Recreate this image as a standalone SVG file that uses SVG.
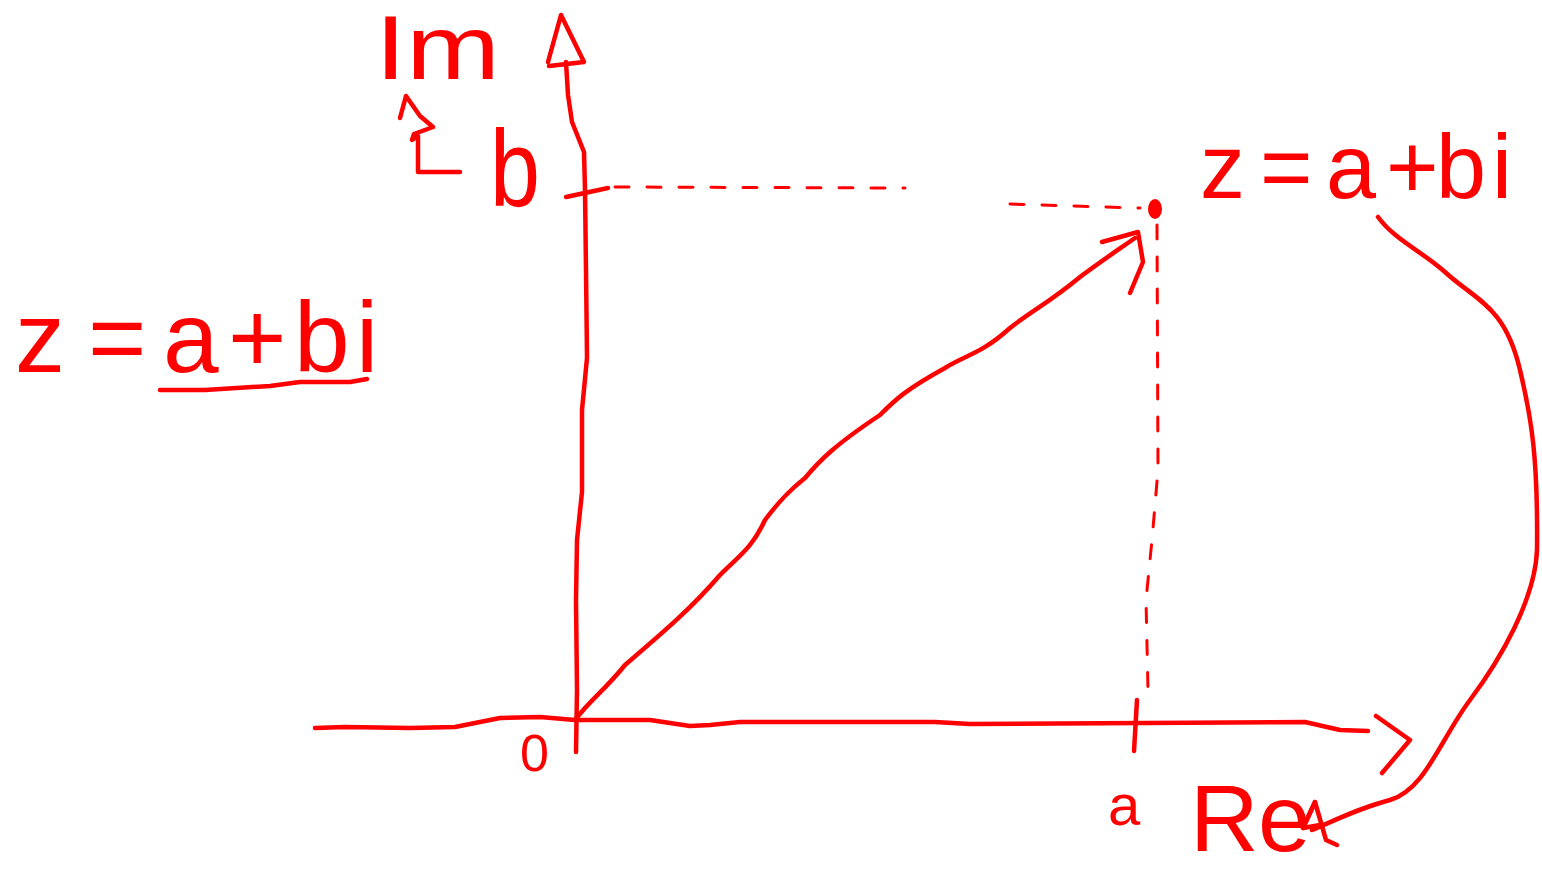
<svg xmlns="http://www.w3.org/2000/svg" width="1542" height="872" viewBox="0 0 1542 872">
<style>
.s{fill:none;stroke:#ff0000;stroke-width:4.5;stroke-linecap:round;stroke-linejoin:round}
.d{fill:none;stroke:#ff0000;stroke-width:3;stroke-linecap:round;stroke-dasharray:14 18}
.t{fill:#ff0000;font-family:"Liberation Sans",Arial,sans-serif}
</style>
<rect width="1542" height="872" fill="#ffffff"/>
<g id="connectors">
<path class="s" d="M576,752 L577,690 L576,600 L577,540 L582,492 L582,410 L587,358 L586,270 L585,190 L584,152 L572,122 L568,95 L566,62"/>
<path class="s" d="M548,62 L561,15 L584,62 L549,66"/>
<path class="s" d="M566,197 L608,188"/>
<path class="s" d="M315,728 L345,727 L410,728 L455,727 L500,718 L540,717 L575,720 L650,720 L690,726 L710,725 L740,722 L935,722 L970,724 L1305,722 L1340,730 L1368,731"/>
<path class="s" d="M1376,716 L1410,740 L1382,773"/>
<path class="s" d="M1137,700 L1134,751"/>
<path class="d" d="M615,187 L905,188"/>
<path class="d" d="M1010,204 L1140,208"/>
<path class="d" d="M1157,225 L1158,470 L1152,540 L1146,600 L1148,690"/>
<ellipse cx="1155" cy="209" rx="7" ry="10" fill="#ff0000"/>
<path class="s" d="M575,720 C590,700 605,690 625,665 C660,635 690,610 720,575 C740,555 752,548 765,520 C780,500 790,490 805,478 C820,460 835,445 880,415 C895,400 905,390 945,368 C965,355 980,355 1010,328 C1030,312 1050,302 1080,277 C1100,262 1115,252 1135,238"/>
<path class="s" d="M1102,242 L1138,232 L1143,262 L1130,293"/>
<path class="s" d="M1378,217 C1395,240 1420,250 1445,272 C1475,300 1505,305 1520,370 C1532,420 1538,460 1537,550 C1535,600 1500,660 1470,700 C1440,740 1425,790 1390,800 C1360,808 1340,818 1312,830"/>
<path class="s" d="M1303,828 L1315,802 L1326,840 L1337,845"/>
<path class="s" d="M1315,802 L1303,828 L1320,825"/>
<path class="s" d="M160,390 L205,390 L270,386 L300,382 L350,382 L367,379"/>
<path class="s" d="M406,96 L400,118 M406,96 L420,116 L433,127 L414,134 L412,140 L418,136 L418,172 L460,172"/>
</g>
<g id="label-im"><text class="t" x="375" y="79" font-size="90" textLength="125" lengthAdjust="spacingAndGlyphs">Im</text></g>
<g id="label-b"><text class="t" x="490" y="206" font-size="110" textLength="50" lengthAdjust="spacingAndGlyphs">b</text></g>
<g id="label-eq-left"><text class="t" y="372" font-size="100"><tspan x="15">z</tspan><tspan x="88">=</tspan><tspan x="163">a</tspan><tspan x="228">+</tspan><tspan x="294">b</tspan><tspan x="356">i</tspan></text></g>
<g id="label-eq-right"><text class="t" y="198" font-size="90"><tspan x="1200">z</tspan><tspan x="1260">=</tspan><tspan x="1326">a</tspan><tspan x="1386">+</tspan><tspan x="1436">b</tspan><tspan x="1492">i</tspan></text></g>
<g id="label-0"><text class="t" x="520" y="771" font-size="52">0</text></g>
<g id="label-a"><text class="t" x="1108" y="825" font-size="58">a</text></g>
<g id="label-re"><text class="t" y="851" font-size="95"><tspan x="1190">R</tspan><tspan x="1258">e</tspan></text></g>
</svg>
